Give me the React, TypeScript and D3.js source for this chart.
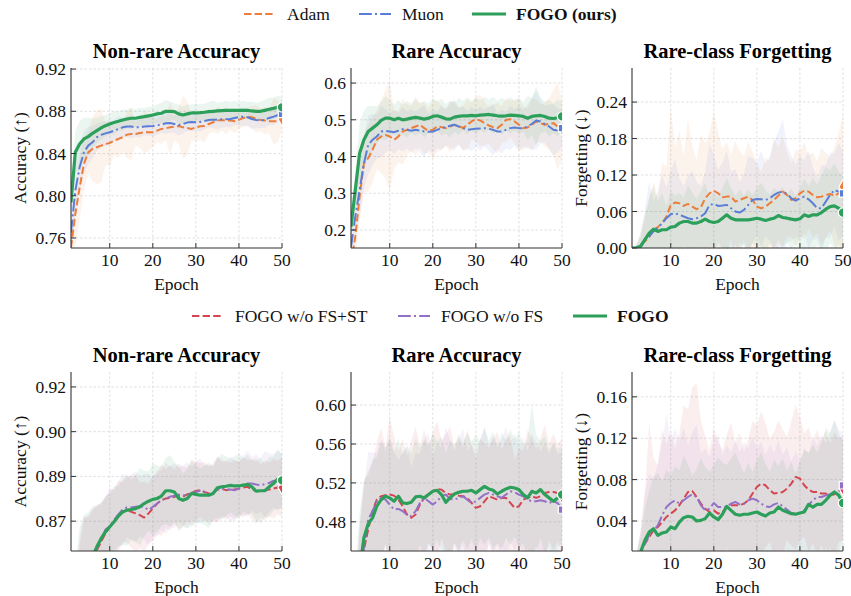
import React from 'react';
import * as d3 from 'd3';

const epochs = d3.range(1, 51);

// ---- top row: Adam / Muon / FOGO (ours) ----
const adamNonRare = [0.7511,0.7827,0.8076,0.8301,0.8411,0.8443,0.8459,0.8475,0.849,0.85,0.8522,0.8538,0.8554,0.8579,0.8585,0.8585,0.8595,0.8601,0.8601,0.8601,0.8617,0.8633,0.8639,0.8648,0.8655,0.8661,0.8648,0.8642,0.8633,0.8648,0.8658,0.8661,0.868,0.8696,0.8712,0.8718,0.8712,0.8712,0.8705,0.8718,0.8737,0.8749,0.8743,0.873,0.8718,0.8712,0.8705,0.8705,0.8705,0.8727];
const muonNonRare = [0.7653,0.8048,0.8269,0.8411,0.8475,0.8506,0.8554,0.8576,0.8591,0.8601,0.8617,0.8633,0.8648,0.8655,0.8655,0.8648,0.8648,0.8655,0.8658,0.8661,0.8667,0.8674,0.8686,0.8689,0.868,0.867,0.868,0.8693,0.8699,0.8696,0.8699,0.8708,0.8718,0.8721,0.8721,0.8724,0.8724,0.8727,0.8737,0.8746,0.8749,0.8743,0.8727,0.8718,0.8712,0.8721,0.8737,0.8749,0.8762,0.8775];
const fogoNonRare = [0.7937,0.8411,0.849,0.8538,0.856,0.8591,0.8617,0.8642,0.8664,0.868,0.8693,0.8705,0.8718,0.8727,0.8734,0.8734,0.8743,0.8749,0.8756,0.8765,0.8775,0.8781,0.88,0.88,0.8797,0.8775,0.8765,0.8775,0.8784,0.8784,0.8787,0.8791,0.8797,0.88,0.8803,0.8806,0.8809,0.8809,0.8809,0.8809,0.8809,0.8809,0.8803,0.88,0.88,0.8809,0.8819,0.8828,0.8838,0.8838];
const adamNonRareSd = [0.025,0.03,0.03,0.025,0.02,0.03,0.035,0.035,0.02,0.022,0.014,0.018,0.014,0.022,0.025,0.011,0.014,0.02,0.018,0.014,0.011,0.014,0.011,0.025,0.013,0.017,0.03,0.026,0.011,0.013,0.013,0.016,0.01,0.009,0.013,0.01,0.013,0.009,0.011,0.009,0.008,0.009,0.011,0.013,0.011,0.013,0.011,0.022,0.02,0.011];
const muonNonRareSd = [0.02,0.025,0.022,0.02,0.018,0.015,0.013,0.012,0.012,0.011,0.01,0.012,0.009,0.01,0.011,0.009,0.01,0.008,0.009,0.01,0.009,0.008,0.01,0.009,0.008,0.01,0.009,0.008,0.009,0.008,0.009,0.008,0.007,0.008,0.009,0.008,0.007,0.008,0.007,0.008,0.009,0.008,0.009,0.008,0.007,0.008,0.007,0.008,0.007,0.008];
const fogoNonRareSd = [0.015,0.02,0.022,0.02,0.018,0.014,0.012,0.011,0.01,0.01,0.011,0.009,0.01,0.009,0.01,0.008,0.009,0.008,0.009,0.008,0.009,0.01,0.011,0.009,0.008,0.009,0.008,0.009,0.008,0.009,0.008,0.008,0.009,0.01,0.008,0.008,0.009,0.008,0.009,0.008,0.009,0.008,0.009,0.008,0.009,0.01,0.011,0.01,0.011,0.01];

const adamRare = [0.1091,0.1818,0.2909,0.3818,0.3955,0.4182,0.4455,0.4545,0.4591,0.4545,0.4455,0.4545,0.4682,0.4727,0.4773,0.4818,0.4864,0.4773,0.47,0.4727,0.4818,0.48,0.4773,0.4818,0.4864,0.4836,0.4773,0.4864,0.4955,0.5018,0.4982,0.4909,0.4845,0.48,0.4773,0.4864,0.5,0.5018,0.4955,0.4864,0.4773,0.4791,0.4864,0.4955,0.4909,0.4864,0.4891,0.4909,0.4818,0.4755];
const muonRare = [0.1545,0.2364,0.3091,0.3818,0.4318,0.4455,0.4545,0.4682,0.47,0.4682,0.4664,0.47,0.4745,0.4727,0.47,0.4727,0.4709,0.4682,0.4673,0.4682,0.4727,0.4773,0.48,0.4836,0.4864,0.4818,0.4773,0.4727,0.4745,0.4755,0.4764,0.4773,0.4755,0.4727,0.4682,0.4682,0.4727,0.4773,0.4791,0.4773,0.4764,0.4818,0.4891,0.4982,0.4955,0.4882,0.4818,0.4727,0.4709,0.4773];
const fogoRare = [0.209,0.309,0.409,0.4455,0.4682,0.4773,0.4864,0.4982,0.5045,0.5045,0.5,0.5045,0.5,0.5018,0.5045,0.5064,0.5045,0.5018,0.5045,0.5091,0.5109,0.5073,0.5027,0.5018,0.5073,0.5091,0.5109,0.5109,0.5118,0.5109,0.5127,0.5136,0.5145,0.5127,0.5109,0.51,0.5109,0.5127,0.5118,0.5109,0.5091,0.5045,0.5091,0.5109,0.5118,0.5091,0.5045,0.5036,0.5055,0.5091];
const adamRareSd = [0.05,0.06,0.07,0.08,0.09,0.09,0.08,0.1,0.12,0.15,0.08,0.07,0.09,0.07,0.06,0.08,0.06,0.07,0.06,0.08,0.07,0.06,0.05,0.07,0.06,0.05,0.06,0.07,0.05,0.06,0.07,0.06,0.05,0.06,0.07,0.05,0.06,0.05,0.06,0.07,0.06,0.05,0.07,0.06,0.05,0.06,0.07,0.09,0.12,0.08];
const muonRareSd = [0.05,0.06,0.07,0.07,0.08,0.07,0.06,0.07,0.06,0.05,0.06,0.05,0.06,0.05,0.06,0.05,0.06,0.07,0.05,0.06,0.05,0.06,0.05,0.06,0.07,0.05,0.06,0.05,0.06,0.05,0.06,0.05,0.06,0.07,0.05,0.06,0.05,0.06,0.05,0.06,0.05,0.06,0.07,0.08,0.06,0.05,0.06,0.07,0.06,0.05];
const fogoRareSd = [0.04,0.06,0.08,0.08,0.07,0.06,0.05,0.05,0.06,0.05,0.04,0.05,0.04,0.05,0.04,0.05,0.04,0.05,0.04,0.05,0.04,0.05,0.04,0.05,0.04,0.05,0.04,0.05,0.04,0.05,0.04,0.05,0.04,0.05,0.04,0.05,0.04,0.05,0.04,0.05,0.04,0.06,0.05,0.08,0.05,0.04,0.05,0.04,0.05,0.04];

const adamForget = [0,0,0.0055,0.0109,0.018,0.03,0.0343,0.0409,0.0518,0.0709,0.0747,0.0736,0.0692,0.0725,0.0681,0.0638,0.067,0.0818,0.0899,0.0943,0.0899,0.0834,0.0845,0.0845,0.0763,0.079,0.0818,0.0845,0.079,0.0681,0.0654,0.0681,0.0736,0.079,0.0861,0.0927,0.0872,0.079,0.0818,0.0899,0.0943,0.0927,0.0872,0.0834,0.0845,0.0872,0.0889,0.0856,0.0899,0.1008];
const muonForget = [0,0,0.0038,0.0136,0.0191,0.0273,0.0327,0.0409,0.049,0.0556,0.0572,0.0545,0.0518,0.049,0.0474,0.049,0.0518,0.0572,0.0709,0.0725,0.0692,0.0698,0.0709,0.0654,0.06,0.0583,0.0627,0.0709,0.079,0.0807,0.0801,0.079,0.0818,0.0872,0.0911,0.0927,0.0889,0.0818,0.0779,0.0818,0.0845,0.0801,0.0736,0.0654,0.0654,0.0763,0.0872,0.0954,0.0927,0.0899];
const fogoForget = [0,0,0.0027,0.0136,0.0245,0.0311,0.0273,0.03,0.03,0.0343,0.0354,0.0409,0.0436,0.0436,0.0409,0.0409,0.0436,0.0474,0.0436,0.042,0.0436,0.049,0.0545,0.049,0.0463,0.0463,0.0463,0.0463,0.0474,0.049,0.0474,0.0452,0.0474,0.049,0.0534,0.0501,0.049,0.0474,0.0463,0.048,0.0545,0.0518,0.0545,0.0545,0.0583,0.0638,0.0681,0.0692,0.0654,0.0583];
const adamForgetSd = [0,0.005,0.02,0.04,0.06,0.08,0.05,0.1,0.08,0.16,0.09,0.12,0.08,0.14,0.1,0.08,0.12,0.09,0.1,0.13,0.1,0.08,0.09,0.07,0.1,0.08,0.07,0.09,0.08,0.07,0.06,0.08,0.07,0.1,0.08,0.09,0.07,0.06,0.08,0.07,0.08,0.06,0.07,0.06,0.08,0.07,0.06,0.08,0.1,0.12];
const muonForgetSd = [0,0.005,0.02,0.05,0.09,0.05,0.06,0.08,0.05,0.07,0.09,0.06,0.05,0.07,0.08,0.06,0.05,0.07,0.1,0.08,0.06,0.07,0.09,0.06,0.07,0.05,0.06,0.08,0.07,0.06,0.08,0.06,0.07,0.09,0.1,0.12,0.08,0.07,0.06,0.07,0.06,0.08,0.06,0.05,0.07,0.06,0.07,0.06,0.08,0.07];
const fogoForgetSd = [0,0.005,0.015,0.04,0.06,0.07,0.05,0.06,0.04,0.06,0.05,0.05,0.04,0.06,0.05,0.04,0.05,0.06,0.04,0.05,0.04,0.05,0.06,0.05,0.04,0.05,0.04,0.05,0.04,0.05,0.06,0.05,0.04,0.05,0.04,0.05,0.04,0.05,0.04,0.05,0.06,0.05,0.06,0.05,0.06,0.07,0.06,0.07,0.06,0.06];

// ---- bottom row: ablations ----
const noFsStNonRare = [0.79,0.815,0.832,0.843,0.85,0.856,0.8603,0.8631,0.8659,0.8681,0.8698,0.8715,0.8731,0.8737,0.8731,0.8726,0.872,0.8712,0.8726,0.8742,0.8759,0.877,0.8776,0.8778,0.8782,0.8784,0.8782,0.879,0.8796,0.8801,0.8804,0.8798,0.8793,0.8796,0.8806,0.8808,0.8804,0.8806,0.8806,0.8809,0.8813,0.8815,0.8806,0.8801,0.8801,0.8804,0.8806,0.8809,0.8813,0.8813];
const noFsNonRare = [0.795,0.82,0.835,0.845,0.851,0.857,0.8608,0.8636,0.8672,0.8683,0.8703,0.8723,0.8739,0.8746,0.8746,0.8748,0.875,0.8748,0.8737,0.8748,0.8759,0.877,0.8776,0.8782,0.8785,0.8789,0.8787,0.8787,0.8793,0.8798,0.8802,0.8796,0.8789,0.8793,0.8806,0.8809,0.8806,0.8806,0.8804,0.8809,0.8821,0.8826,0.8826,0.8823,0.8821,0.8824,0.8828,0.8835,0.8837,0.8835];
const fogoAblNonRare = [0.8,0.825,0.838,0.846,0.852,0.858,0.8614,0.8642,0.8664,0.8681,0.8698,0.8717,0.8731,0.8737,0.8739,0.8742,0.8748,0.8759,0.8767,0.8773,0.8776,0.8784,0.8802,0.8802,0.8798,0.8776,0.877,0.8776,0.8793,0.879,0.8787,0.8787,0.8787,0.8793,0.8812,0.8815,0.8817,0.882,0.8818,0.8818,0.8821,0.8823,0.8815,0.8801,0.8802,0.8802,0.8815,0.8826,0.8841,0.8837];
const noFsStNonRareSd = [0.03,0.03,0.03,0.028,0.022,0.018,0.015,0.013,0.012,0.012,0.011,0.012,0.01,0.011,0.012,0.013,0.011,0.012,0.01,0.011,0.01,0.012,0.01,0.011,0.009,0.011,0.01,0.009,0.011,0.01,0.009,0.01,0.009,0.01,0.011,0.009,0.01,0.009,0.01,0.009,0.01,0.009,0.01,0.011,0.009,0.01,0.009,0.01,0.009,0.01];
const noFsNonRareSd = [0.03,0.03,0.03,0.027,0.02,0.017,0.014,0.012,0.011,0.013,0.01,0.011,0.012,0.01,0.011,0.012,0.01,0.011,0.012,0.01,0.011,0.01,0.012,0.01,0.011,0.009,0.01,0.011,0.009,0.01,0.011,0.009,0.01,0.009,0.011,0.01,0.009,0.011,0.01,0.009,0.01,0.011,0.009,0.01,0.009,0.011,0.01,0.009,0.01,0.009];
const fogoAblNonRareSd = [0.03,0.03,0.03,0.026,0.021,0.017,0.014,0.012,0.012,0.011,0.012,0.01,0.011,0.012,0.01,0.011,0.013,0.011,0.01,0.012,0.011,0.01,0.011,0.012,0.01,0.011,0.009,0.01,0.011,0.01,0.009,0.01,0.011,0.009,0.01,0.011,0.01,0.009,0.01,0.011,0.009,0.01,0.009,0.01,0.011,0.009,0.01,0.009,0.01,0.009];

const noFsStRare = [0.28,0.35,0.41,0.4517,0.4722,0.4909,0.5028,0.5063,0.5073,0.508,0.5069,0.5028,0.496,0.4875,0.4841,0.4875,0.4977,0.5046,0.508,0.5114,0.5138,0.5131,0.5097,0.508,0.508,0.5069,0.5063,0.5046,0.4994,0.4943,0.496,0.5011,0.5063,0.5046,0.5028,0.5046,0.5046,0.4994,0.4943,0.496,0.5028,0.5046,0.5063,0.5046,0.5063,0.5097,0.5107,0.5107,0.5097,0.5063];
const noFsRare = [0.29,0.36,0.42,0.4534,0.4824,0.4909,0.5011,0.5046,0.5028,0.4977,0.4926,0.4933,0.4909,0.4875,0.4858,0.4909,0.4994,0.5046,0.5011,0.4977,0.5011,0.5063,0.508,0.5035,0.5028,0.5046,0.5063,0.5028,0.4994,0.5011,0.5046,0.508,0.5097,0.508,0.5063,0.5046,0.508,0.5114,0.5103,0.508,0.5063,0.5028,0.5011,0.5011,0.5022,0.5011,0.4994,0.5011,0.4994,0.4926];
const fogoAblRare = [0.28,0.36,0.43,0.4636,0.478,0.4841,0.496,0.5028,0.5063,0.5046,0.5011,0.5063,0.4994,0.4988,0.5001,0.5056,0.5063,0.5046,0.508,0.5114,0.5124,0.508,0.5001,0.5046,0.5086,0.5103,0.5114,0.5114,0.5124,0.5097,0.5131,0.5165,0.5138,0.5124,0.5086,0.5114,0.5138,0.5155,0.5148,0.5131,0.508,0.5046,0.5114,0.5097,0.5131,0.508,0.5046,0.5011,0.5046,0.508];
const noFsStRareSd = [0.06,0.06,0.06,0.07,0.06,0.05,0.06,0.07,0.05,0.08,0.06,0.05,0.07,0.06,0.08,0.09,0.06,0.07,0.05,0.06,0.07,0.05,0.06,0.07,0.05,0.06,0.05,0.07,0.06,0.05,0.07,0.06,0.05,0.06,0.07,0.05,0.06,0.07,0.05,0.06,0.05,0.07,0.06,0.05,0.06,0.07,0.05,0.06,0.05,0.06];
const noFsRareSd = [0.06,0.06,0.06,0.06,0.07,0.06,0.05,0.06,0.05,0.07,0.06,0.05,0.06,0.07,0.05,0.06,0.05,0.06,0.07,0.05,0.06,0.05,0.07,0.06,0.05,0.06,0.07,0.05,0.06,0.05,0.06,0.07,0.05,0.06,0.05,0.06,0.07,0.05,0.06,0.05,0.06,0.05,0.07,0.06,0.05,0.06,0.05,0.06,0.05,0.06];
const fogoAblRareSd = [0.06,0.06,0.06,0.06,0.05,0.06,0.05,0.06,0.05,0.06,0.05,0.06,0.05,0.06,0.05,0.06,0.05,0.06,0.05,0.06,0.05,0.06,0.05,0.06,0.05,0.06,0.05,0.06,0.05,0.06,0.05,0.06,0.05,0.06,0.05,0.06,0.05,0.06,0.05,0.06,0.05,0.06,0.09,0.06,0.05,0.06,0.05,0.06,0.05,0.05];

const noFsStForget = [0,0.003,0.01,0.0181,0.0245,0.031,0.0342,0.039,0.0439,0.0471,0.0503,0.0552,0.0616,0.0681,0.069,0.0632,0.0568,0.0519,0.0487,0.0503,0.0471,0.0487,0.0535,0.0552,0.0552,0.0552,0.0568,0.06,0.0665,0.0729,0.0761,0.0745,0.0697,0.0665,0.0671,0.0681,0.0713,0.0761,0.0826,0.081,0.0745,0.0703,0.0681,0.0681,0.0665,0.0665,0.0648,0.0658,0.0697,0.0713];
const noFsForget = [0,0.003,0.01,0.0181,0.0261,0.031,0.0358,0.0455,0.0535,0.0574,0.06,0.0568,0.06,0.0632,0.0658,0.0632,0.0552,0.0503,0.0519,0.0574,0.0535,0.0535,0.0535,0.0568,0.0584,0.0561,0.0568,0.06,0.0616,0.06,0.0568,0.0542,0.0535,0.0561,0.0574,0.0542,0.051,0.0477,0.0471,0.0477,0.0503,0.0552,0.06,0.0632,0.0632,0.0648,0.0658,0.0671,0.0681,0.0745];
const fogoAblForget = [0,0.003,0.01,0.0213,0.0294,0.0326,0.0261,0.0284,0.0294,0.0342,0.0326,0.039,0.0432,0.0445,0.0439,0.04,0.0406,0.0423,0.0477,0.0439,0.0413,0.0465,0.0542,0.0503,0.0465,0.0455,0.0465,0.0465,0.0477,0.0487,0.0465,0.0448,0.0477,0.0487,0.0535,0.0503,0.0487,0.0471,0.0465,0.0477,0.0487,0.0561,0.0535,0.0561,0.0561,0.06,0.0648,0.0681,0.0648,0.0574];
const noFsStForgetSd = [0,0.005,0.02,0.05,0.11,0.07,0.06,0.09,0.07,0.08,0.06,0.07,0.09,0.08,0.1,0.11,0.08,0.07,0.06,0.08,0.07,0.06,0.07,0.08,0.06,0.07,0.05,0.06,0.07,0.06,0.07,0.06,0.05,0.06,0.07,0.06,0.05,0.06,0.07,0.06,0.05,0.06,0.05,0.06,0.05,0.06,0.05,0.06,0.05,0.05];
const noFsForgetSd = [0,0.005,0.02,0.05,0.06,0.05,0.06,0.07,0.09,0.06,0.07,0.06,0.07,0.05,0.06,0.07,0.05,0.06,0.05,0.06,0.07,0.05,0.06,0.05,0.06,0.05,0.06,0.05,0.06,0.05,0.06,0.05,0.06,0.05,0.06,0.05,0.06,0.05,0.06,0.05,0.06,0.05,0.06,0.05,0.06,0.05,0.06,0.07,0.06,0.05];
const fogoAblForgetSd = [0,0.005,0.015,0.03,0.04,0.05,0.06,0.05,0.06,0.05,0.06,0.05,0.06,0.05,0.04,0.05,0.06,0.05,0.04,0.05,0.06,0.05,0.04,0.05,0.06,0.05,0.04,0.05,0.04,0.05,0.06,0.05,0.04,0.05,0.04,0.05,0.04,0.05,0.04,0.05,0.06,0.05,0.06,0.05,0.06,0.07,0.06,0.07,0.06,0.06];

// axis ticks
const xTicks = [10, 20, 30, 40, 50];
const ticksNonRareTop = [0.76, 0.8, 0.84, 0.88, 0.92];
const ticksRareTop = [0.2, 0.3, 0.4, 0.5, 0.6];
const ticksForgetTop = [0, 0.06, 0.12, 0.18, 0.24];
const ticksNonRareBottom = [0.87, 0.885, 0.9, 0.915];
const labelsNonRareBottom = ['0.87', '0.89', '0.90', '0.92'];
const ticksRareBottom = [0.48, 0.52, 0.56, 0.6];
const ticksForgetBottom = [0.04, 0.08, 0.12, 0.16];

const FONT = "'Liberation Serif', 'Times New Roman', Times, serif";

const styles = {
  adam: { color: '#ED7D3A', dash: '7.4,3.2', width: 2, marker: d3.symbolDiamond },
  muon: { color: '#5A7ED8', dash: '12.8,3.2,2,3.2', width: 2, marker: d3.symbolSquare },
  fogo: { color: '#2CA05A', dash: null, width: 3.2, marker: d3.symbolCircle },
  noFsSt: { color: '#D5454F', dash: '7.4,3.2', width: 2, marker: d3.symbolDiamond },
  noFs: { color: '#9470C6', dash: '12.8,3.2,2,3.2', width: 2, marker: d3.symbolSquare },
};

const cols = [[71, 282], [351, 562], [632, 843]];
const rows = [[68, 248], [372, 551]];

const panels = [
  { title: 'Non-rare Accuracy', ylabel: 'Accuracy (↑)', ylim: [0.7505, 0.921], ticks: ticksNonRareTop, fmt: d3.format('.2f'), row: 0, col: 0,
    series: [['adam', adamNonRare, adamNonRareSd], ['muon', muonNonRare, muonNonRareSd], ['fogo', fogoNonRare, fogoNonRareSd]] },
  { title: 'Rare Accuracy', ylabel: null, ylim: [0.151, 0.641], ticks: ticksRareTop, fmt: d3.format('.1f'), row: 0, col: 1,
    series: [['adam', adamRare, adamRareSd], ['muon', muonRare, muonRareSd], ['fogo', fogoRare, fogoRareSd]] },
  { title: 'Rare-class Forgetting', ylabel: 'Forgetting (↓)', ylim: [0, 0.296], ticks: ticksForgetTop, fmt: d3.format('.2f'), row: 0, col: 2,
    series: [['adam', adamForget, adamForgetSd], ['muon', muonForget, muonForgetSd], ['fogo', fogoForget, fogoForgetSd]] },
  { title: 'Non-rare Accuracy', ylabel: 'Accuracy (↑)', ylim: [0.86, 0.92], ticks: ticksNonRareBottom, fmt: (_: number, i: number) => labelsNonRareBottom[i], row: 1, col: 0,
    series: [['noFsSt', noFsStNonRare, noFsStNonRareSd], ['noFs', noFsNonRare, noFsNonRareSd], ['fogo', fogoAblNonRare, fogoAblNonRareSd]] },
  { title: 'Rare Accuracy', ylabel: null, ylim: [0.45, 0.634], ticks: ticksRareBottom, fmt: d3.format('.2f'), row: 1, col: 1,
    series: [['noFsSt', noFsStRare, noFsStRareSd], ['noFs', noFsRare, noFsRareSd], ['fogo', fogoAblRare, fogoAblRareSd]] },
  { title: 'Rare-class Forgetting', ylabel: 'Forgetting (↓)', ylim: [0.011, 0.184], ticks: ticksForgetBottom, fmt: d3.format('.2f'), row: 1, col: 2,
    series: [['noFsSt', noFsStForget, noFsStForgetSd], ['noFs', noFsForget, noFsForgetSd], ['fogo', fogoAblForget, fogoAblForgetSd]] },
];

function Panel({ p, idx }: any) {
  const [x0, x1] = cols[p.col];
  const [y0, y1] = rows[p.row];
  const x = d3.scaleLinear().domain([1, 50]).range([x0, x1]);
  const y = d3.scaleLinear().domain(p.ylim).range([y1, y0]);
  const clipId = `clip-${idx}`;

  return (
    <g>
      <defs>
        <clipPath id={clipId}>
          <rect x={x0} y={y0} width={x1 - x0} height={y1 - y0} />
        </clipPath>
      </defs>
      {/* grid */}
      {xTicks.map(t => (
        <line key={'gx' + t} x1={x(t)} x2={x(t)} y1={y0} y2={y1} stroke="#d8d8d8" strokeWidth={0.8} strokeDasharray="2.5,2" />
      ))}
      {p.ticks.map((t: number) => (
        <line key={'gy' + t} x1={x0} x2={x1} y1={y(t)} y2={y(t)} stroke="#d8d8d8" strokeWidth={0.8} strokeDasharray="2.5,2" />
      ))}
      <g clipPath={`url(#${clipId})`}>
        {/* bands */}
        {p.series.map(([key, vals, sd]: any) => {
          const area = d3.area<number>()
            .x((_, i) => x(epochs[i]))
            .y0((v, i) => y(v - sd[i]))
            .y1((v, i) => y(v + sd[i]));
          return <path key={'b' + key} d={area(vals) || ''} fill={(styles as any)[key].color} fillOpacity={0.09} />;
        })}
        {/* mean curves */}
        {p.series.map(([key, vals]: any) => {
          const s = (styles as any)[key];
          const line = d3.line<number>().x((_, i) => x(epochs[i])).y(v => y(v));
          return <path key={'l' + key} d={line(vals) || ''} fill="none" stroke={s.color} strokeWidth={s.width}
            strokeDasharray={s.dash || undefined} strokeLinejoin="round" />;
        })}
        {/* end markers, clipped like the axes */}
        {p.series.map(([key, vals]: any) => {
          const s = (styles as any)[key];
          const last = vals[vals.length - 1];
          const sym = d3.symbol().type(s.marker).size(s.marker === d3.symbolCircle ? 70 : 55)();
          return <path key={'m' + key} d={sym || ''} transform={`translate(${x(50)},${y(last)})`} fill={s.color} stroke="#fff" strokeWidth={1.2} />;
        })}
      </g>
      {/* spines */}
      <line x1={x0} x2={x0} y1={y0} y2={y1} stroke="#333" strokeWidth={1.1} />
      <line x1={x0} x2={x1} y1={y1} y2={y1} stroke="#333" strokeWidth={1.1} />
      {/* ticks */}
      {xTicks.map(t => (
        <g key={'tx' + t}>
          <line x1={x(t)} x2={x(t)} y1={y1} y2={y1 - 5} stroke="#333" strokeWidth={1} />
          <text x={x(t)} y={y1 + 18} textAnchor="middle" fontSize={17.5} fontFamily={FONT} fill="#111">{t}</text>
        </g>
      ))}
      {p.ticks.map((t: number, i: number) => (
        <g key={'ty' + t}>
          <line x1={x0} x2={x0 + 5} y1={y(t)} y2={y(t)} stroke="#333" strokeWidth={1} />
          <text x={x0 - 5} y={y(t) + 6} textAnchor="end" fontSize={17.5} fontFamily={FONT} fill="#111">{p.fmt(t, i)}</text>
        </g>
      ))}
      <text x={(x0 + x1) / 2} y={y1 + 42} textAnchor="middle" fontSize={17.5} fontFamily={FONT} fill="#111">Epoch</text>
      {p.ylabel && (
        <text transform={`translate(${x0 - 45},${(y0 + y1) / 2}) rotate(-90)`} textAnchor="middle" fontSize={17.5} fontFamily={FONT} fill="#111">{p.ylabel}</text>
      )}
      <text x={(x0 + x1) / 2} y={y0 - 10} textAnchor="middle" fontSize={20.5} fontWeight="bold" fontFamily={FONT} fill="#000">{p.title}</text>
    </g>
  );
}

const topLegend = [
  { key: 'adam', label: 'Adam', bold: false, sx: 244, ex: 273, tx: 287 },
  { key: 'muon', label: 'Muon', bold: false, sx: 359, ex: 391, tx: 402 },
  { key: 'fogo', label: 'FOGO (ours)', bold: true, sx: 472, ex: 506, tx: 516 },
];
const bottomLegend = [
  { key: 'noFsSt', label: 'FOGO w/o FS+ST', bold: false, sx: 192, ex: 221, tx: 235 },
  { key: 'noFs', label: 'FOGO w/o FS', bold: false, sx: 398, ex: 430, tx: 441 },
  { key: 'fogo', label: 'FOGO', bold: true, sx: 573, ex: 607, tx: 617 },
];

function Legend({ items, cy }: any) {
  return (
    <g>
      {items.map((it: any) => {
        const s = (styles as any)[it.key];
        return (
          <g key={it.key}>
            <line x1={it.sx} x2={it.ex} y1={cy} y2={cy} stroke={s.color} strokeWidth={s.width}
              strokeDasharray={s.dash || undefined} />
            <text x={it.tx} y={cy + 6} fontSize={17.5} fontFamily={FONT} fontWeight={it.bold ? 'bold' : 'normal'} fill="#111">{it.label}</text>
          </g>
        );
      })}
    </g>
  );
}

export default function App() {
  return (
    <svg width={851} height={596} style={{ position: 'absolute', left: 0, top: 0, background: '#fff' }}>
      <rect width={851} height={596} fill="#fff" />
      <Legend items={topLegend} cy={14} />
      <Legend items={bottomLegend} cy={316} />
      {panels.map((p, i) => <Panel key={i} p={p} idx={i} />)}
    </svg>
  );
}
